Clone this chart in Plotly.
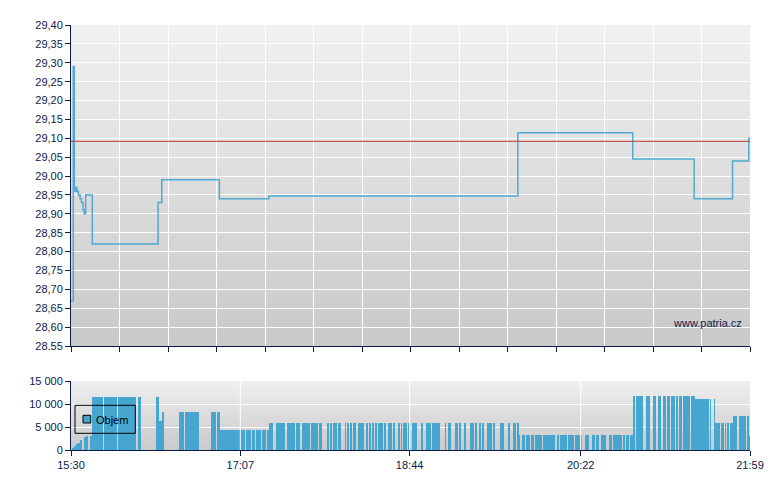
import plotly.graph_objects as go

# ---------------- data ----------------
# time in minutes after 15:30
price_time = [0, 1.3, 1.9, 2.3, 2.9, 3.4, 4.2, 5.2, 6.0, 6.9, 7.6, 8.4, 12.2,
              49.9, 52.0, 85.0, 113.3, 256.0, 321.8, 357.0, 379.0, 388.3, 389.0]
price_value = [28.67, 29.29, 28.97, 28.96, 28.97, 28.96, 28.95, 28.94, 28.93, 28.91, 28.90, 28.95, 28.82,
               28.93, 28.99, 28.94, 28.947, 29.115, 29.045, 28.94, 29.04, 29.10, 29.10]
prev_close = 29.092

price_ticks = [28.55, 28.60, 28.65, 28.70, 28.75, 28.80, 28.85, 28.90, 28.95,
               29.00, 29.05, 29.10, 29.15, 29.20, 29.25, 29.30, 29.35, 29.40]
price_tick_labels = ["28.55", "28,60", "28,65", "28,70", "28,75", "28,80", "28,85", "28,90", "28,95",
                     "29,00", "29,05", "29,10", "29,15", "29,20", "29,25", "29,30", "29,35", "29,40"]

vol_ticks = [0, 5000, 10000, 15000]
vol_tick_labels = ["0", "5 000", "10 000", "15 000"]

time_ticks = [0, 97, 194, 292, 389]
time_labels = ["15:30", "17:07", "18:44", "20:22", "21:59"]

# volume bars: (start minute, end minute, volume) for the opening ramp
ramp_bars = [(0.6, 1.7, 400), (1.7, 2.9, 800), (2.9, 4.0, 1200), (4.0, 5.2, 1600), (5.2, 6.3, 2100),
             (7.3, 8.6, 2800), (8.6, 9.9, 3050), (11.3, 12.0, 3100),
             (50.2, 52.1, 6200)]
# runs of minutes at a common volume level
runs_11500 = [(12.0, 18.3), (18.8, 26.3), (26.8, 37.2), (38.2, 39.9), (49.1, 50.2)]
runs_8200 = [(52.1, 53.3), (61.9, 62.5), (62.9, 65.0), (65.3, 73.2),
             (80.0, 81.9), (82.4, 83.1), (83.6, 85.2)]
runs_4350 = [(85.2, 96.8), (97.2, 97.6), (98.0, 98.5), (99.0, 99.7), (100.3, 100.9), (101.2, 101.8),
             (102.2, 103.1), (103.7, 105.6), (106.2, 109.0), (109.4, 111.7), (112.1, 113.4)]
runs_5900 = [(113.4, 115.9), (117.5, 122.6), (123.7, 128.3), (128.9, 129.5), (130.4, 131.2),
             (132.7, 133.3), (133.9, 134.5), (135.0, 135.6), (136.2, 137.1), (137.9, 139.0),
             (139.6, 140.2), (140.8, 141.7), (142.1, 143.6), (146.7, 147.3), (148.4, 149.0),
             (150.1, 150.7), (151.8, 152.6), (153.5, 154.5), (157.0, 157.5), (158.3, 158.9),
             (159.8, 161.0), (161.6, 163.3), (164.6, 165.2), (165.6, 167.9), (169.4, 170.0),
             (170.9, 171.5), (172.4, 173.6), (174.3, 175.3), (175.7, 178.7), (179.3, 180.5),
             (181.6, 183.9), (184.5, 185.6), (187.3, 188.5), (189.1, 189.6), (190.4, 190.9),
             (191.9, 192.5), (193.1, 194.0), (195.2, 198.2), (200.5, 201.7), (203.4, 206.2),
             (206.8, 211.4), (214.3, 214.8), (216.0, 217.7), (220.0, 221.7), (222.6, 223.4),
             (225.5, 226.3), (228.6, 229.2), (229.7, 230.9), (232.0, 232.6), (234.3, 235.0),
             (235.6, 236.7), (238.3, 240.1), (240.6, 241.2), (242.2, 242.9), (245.8, 246.7),
             (247.1, 248.3), (250.3, 251.5), (253.7, 254.8), (255.3, 256.6),
             (369.0, 369.6), (370.1, 370.7), (371.2, 371.8), (372.4, 372.9), (373.5, 374.1),
             (374.7, 375.2), (375.8, 377.0), (377.5, 379.3)]
runs_3200 = [(256.6, 257.2), (258.2, 260.1), (260.6, 261.8), (262.2, 262.7), (263.5, 265.4),
             (266.0, 266.6), (267.1, 267.7), (268.3, 269.8), (270.2, 271.5), (272.1, 272.7),
             (273.2, 273.8), (274.4, 274.9), (275.5, 276.1), (276.6, 277.2), (278.9, 279.5),
             (280.7, 281.8), (282.4, 283.0), (283.5, 284.1), (284.7, 288.1), (289.3, 290.4),
             (290.8, 291.3), (292.3, 292.7), (295.0, 295.6), (296.1, 296.7), (298.9, 300.0),
             (301.2, 302.3), (304.1, 305.2), (305.7, 306.3), (308.0, 309.8), (310.3, 315.7),
             (316.8, 317.4), (318.0, 318.5), (319.1, 319.7), (320.3, 322.0)]
runs_11700 = [(322.5, 323.1), (323.7, 324.2), (324.8, 325.4), (325.9, 326.5), (327.1, 327.7),
              (329.4, 331.7), (333.4, 335.1), (336.3, 336.9), (337.4, 338.0), (339.1, 340.8),
              (341.4, 343.1), (343.7, 346.0), (346.5, 347.7), (348.2, 349.9), (350.5, 352.8),
              (353.4, 354.5), (355.1, 357.4)]
runs_11000 = [(357.4, 365.5), (366.1, 366.6), (368.4, 368.9)]
runs_7400 = [(379.3, 381.6), (382.7, 384.4), (384.9, 385.5), (386.1, 386.7), (387.2, 388.4)]
runs_3000 = [(388.4, 389.0)]

segments = list(ramp_bars)
for level, runs in [(11500, runs_11500), (8200, runs_8200), (4350, runs_4350), (5900, runs_5900),
                    (3200, runs_3200), (11700, runs_11700), (11000, runs_11000),
                    (7400, runs_7400), (3000, runs_3000)]:
    segments += [(s, e, level) for s, e in runs]

vol_x = [(s + e) / 2 for s, e, v in segments]
vol_w = [(e - s) for s, e, v in segments]
vol_y = [v for s, e, v in segments]

# ---------------- styling ----------------
NAVY = "#0c1a4a"
BLUE = "#46a6d0"
LINE_BLUE = "#4fa9d3"
FONT = dict(family="Liberation Sans, Arial, sans-serif", size=11, color=NAVY)

# page-pixel geometry (page body has an 8px margin)
OFF = 8
PL, PR, PT, PB = 71, 750, 25, 450
W, H = 780 - OFF, 490 - OFF
L, T = PL - OFF, PT - OFF
R, B = W - (PR - OFF), H - (PB - OFF)
PW, PH = PR - PL, PB - PT


def px(x):
    return (x - PL) / PW


def py(y):
    return (PB - y) / PH


price_dom = [py(346), 1.0]
vol_dom = [0.0, py(381)]

fig = go.Figure()
fig.add_trace(go.Bar(x=vol_x, y=vol_y, width=vol_w, marker=dict(color=BLUE, line=dict(width=0)),
                     xaxis="x2", yaxis="y2", showlegend=False, hoverinfo="skip"))
fig.add_trace(go.Scatter(x=price_time, y=price_value, mode="lines",
                         line=dict(color=LINE_BLUE, width=1.5, shape="hv"),
                         xaxis="x", yaxis="y", showlegend=False))

shapes = []
# background gradients
N = 40
for yref, xref in [("y domain", "x domain"), ("y2 domain", "x2 domain")]:
    for i in range(N):
        c = int(round(240 - (240 - 201) * (1 - (i + 0.5) / N)))
        shapes.append(dict(type="rect", xref=xref, yref=yref, x0=0, x1=1,
                           y0=i / N, y1=min(1.0, (i + 1) / N + 0.002), layer="below",
                           line=dict(width=0), fillcolor=f"rgb({c},{c},{c})"))
# previous close line
shapes.append(dict(type="line", xref="x domain", yref="y", x0=0, x1=1, y0=prev_close, y1=prev_close,
                   line=dict(color="#c03a3a", width=1), layer="above"))
# vertical volume gridlines drawn over bars
for tv in time_ticks[1:-1]:
    shapes.append(dict(type="line", xref="x2", yref="y2 domain", x0=tv, x1=tv, y0=0, y1=1,
                       line=dict(color="white", width=1), layer="above"))
# manual legend box
shapes.append(dict(type="rect", xref="paper", yref="paper", x0=px(75), x1=px(135.3), y0=py(433.3), y1=py(405.3),
                   line=dict(color="black", width=1), fillcolor="rgba(0,0,0,0)", layer="above"))
shapes.append(dict(type="rect", xref="paper", yref="paper", x0=px(83), x1=px(90.7), y0=py(423), y1=py(415.3),
                   line=dict(color="black", width=1), fillcolor=BLUE, layer="above"))

annotations = [
    dict(text="Objem", xref="paper", yref="paper", x=px(94), y=py(419.5), xanchor="left", yanchor="middle",
         showarrow=False, font=dict(family=FONT["family"], size=11, color="black")),
    dict(text="www.patria.cz", xref="paper", yref="paper", x=px(743.5), y=py(323), xanchor="right",
         yanchor="middle", showarrow=False, font=dict(family=FONT["family"], size=11, color=NAVY)),
]

axis_common = dict(showline=True, linecolor=NAVY, linewidth=1, ticks="outside", ticklen=5,
                   tickcolor=NAVY, tickfont=FONT, zeroline=False, fixedrange=True)

fig.update_layout(
    width=W, height=H,
    margin=dict(l=L, r=R, t=T, b=B, autoexpand=False),
    paper_bgcolor="white", plot_bgcolor="#dcdcdc",
    font=FONT, showlegend=False, bargap=0,
    xaxis=dict(domain=[0, 1], anchor="y", range=[0, 389], tickmode="linear", tick0=0, dtick=389 / 14.0001,
               showticklabels=False, showgrid=True, gridcolor="white", gridwidth=1, **axis_common),
    yaxis=dict(domain=price_dom, anchor="x", range=[28.55, 29.40], tickvals=price_ticks,
               ticktext=price_tick_labels, showgrid=True, gridcolor="white", gridwidth=1, **axis_common),
    xaxis2=dict(domain=[0, 1], anchor="y2", range=[0, 389], tickvals=time_ticks, ticktext=time_labels,
                showgrid=False, **axis_common),
    yaxis2=dict(domain=vol_dom, anchor="x2", range=[0, 15000], tickvals=vol_ticks, ticktext=vol_tick_labels,
                showgrid=True, gridcolor="white", gridwidth=1, **axis_common),
    shapes=shapes, annotations=annotations,
)

fig.write_html("out.html")
